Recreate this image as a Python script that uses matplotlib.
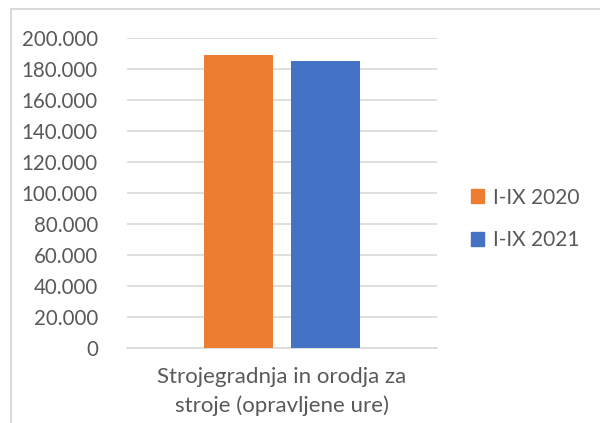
import matplotlib
matplotlib.use("Agg")
import matplotlib.pyplot as plt
from matplotlib.patches import Rectangle, Patch

category = "Strojegradnja in orodja za\nstroje (opravljene ure)"
series_names = ["I-IX 2020", "I-IX 2021"]
values = [189000, 185200]
colors = ["#ED7D31", "#4472C4"]
yticks = list(range(0, 200001, 20000))
ytick_labels = ["0" if v == 0 else f"{v:,}".replace(",", ".") for v in yticks]

plt.rcParams['font.family'] = ['Lato', 'DejaVu Sans']
W, H = 600, 423
fig = plt.figure(figsize=(W / 100, H / 100), dpi=100)

# chart frame
fig.patches.append(Rectangle((11 / W, -0.05), 1.0, (H - 9) / H + 0.05,
                             transform=fig.transFigure, fill=False,
                             edgecolor="#D9D9D9", linewidth=1.5))

# cut-off title
fig.text(305 / W, (H + 7.5) / H, "Strojegradnja in orodja za stroje",
         ha="center", va="baseline", fontsize=18, fontweight="bold", color="black")

ax = fig.add_axes([127 / W, (H - 348) / H, 310 / W, 310 / H])
width = 0.2226
offsets = [-0.1419, 0.1419]
for name, v, c, o in zip(series_names, values, colors, offsets):
    ax.bar(o, v, width=width, color=c, label=name, zorder=3)

ax.set_xlim(-0.5, 0.5)
ax.set_ylim(0, 200000)
ax.set_yticks(yticks)
ax.set_yticklabels(ytick_labels, fontsize=14.8, color="#595959")
ax.set_xticks([0])
ax.set_xticklabels([category], fontsize=16, color="#595959", linespacing=1.45)
ax.tick_params(axis="both", length=0)
ax.tick_params(axis="y", pad=21)
ax.tick_params(axis="x", pad=14)
ax.grid(axis="y", color="#D9D9D9", linewidth=1.2, zorder=0)
for s in ["top", "right", "left"]:
    ax.spines[s].set_visible(False)
ax.spines["bottom"].set_color("#D9D9D9")
ax.spines["bottom"].set_linewidth(1.2)

handles = [Patch(facecolor=c, edgecolor=c) for c in colors]
leg = fig.legend(handles, series_names, loc="center left",
                 bbox_to_anchor=(452 / W, (H - 219) / H), frameon=False,
                 fontsize=15, handlelength=0.65, handleheight=0.65,
                 handletextpad=0.4, labelspacing=1.1, labelcolor="#595959")

fig.savefig("out.png", dpi=100)
